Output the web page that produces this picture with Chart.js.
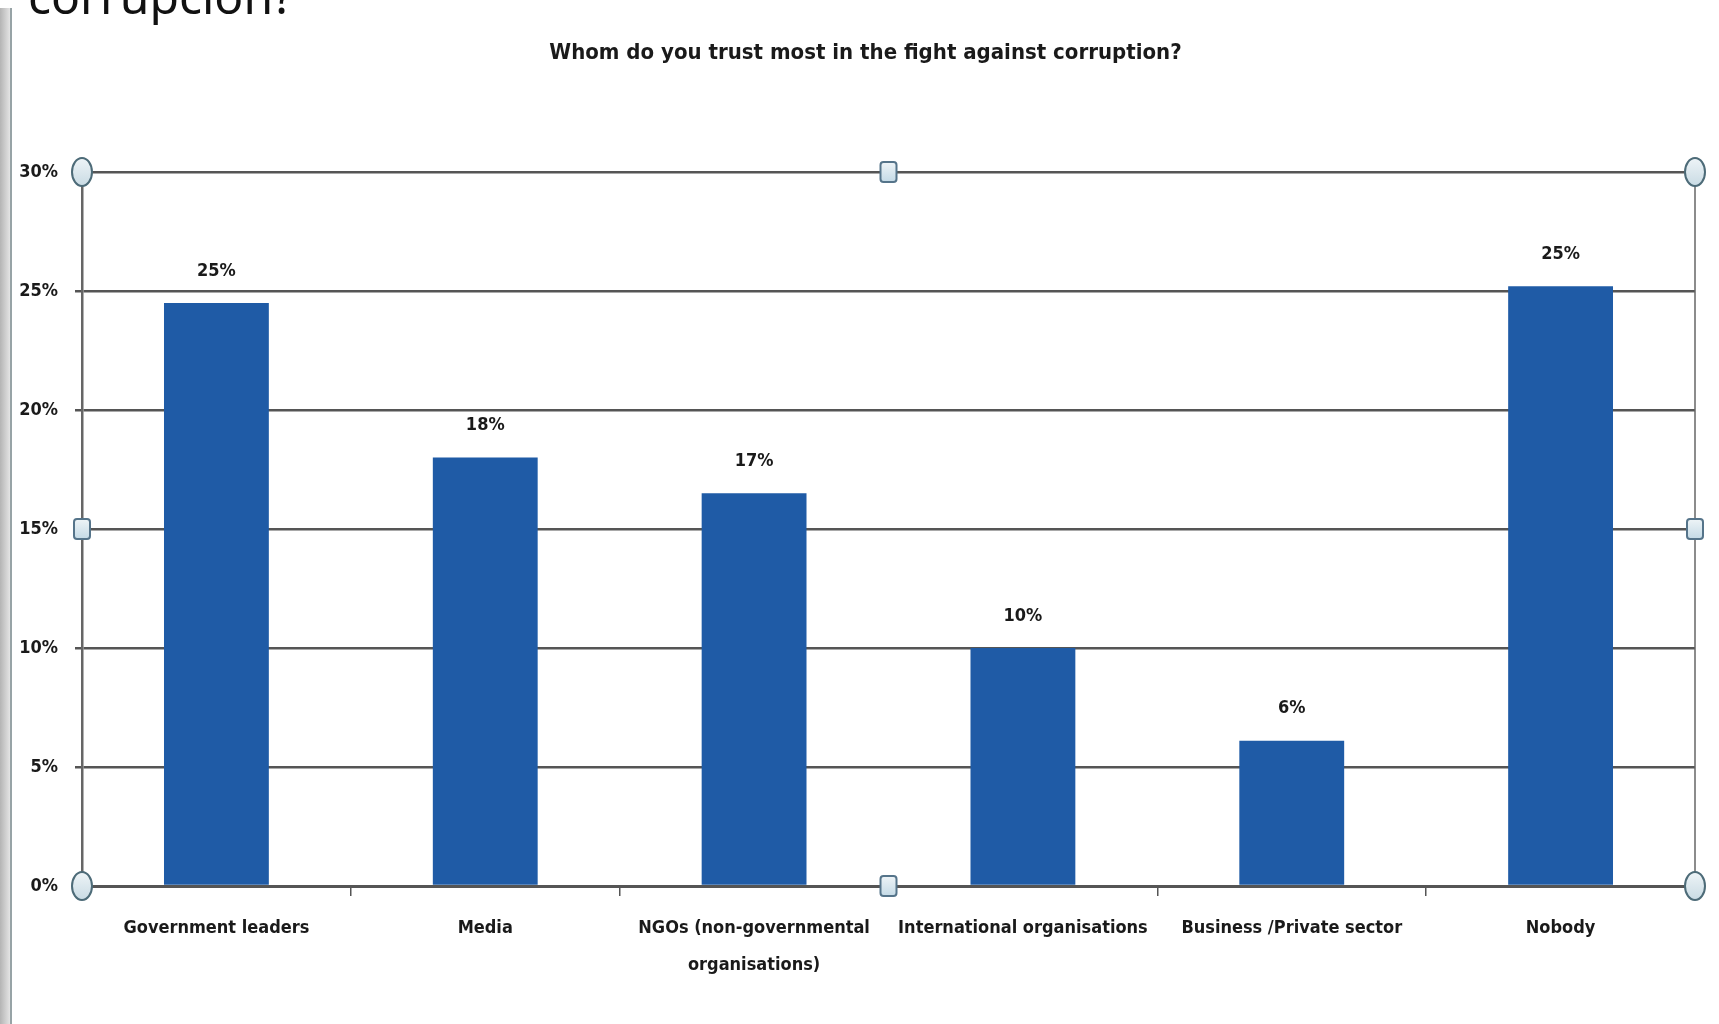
<!DOCTYPE html>
<html>
<head>
<meta charset="utf-8">
<script src="https://cdn.jsdelivr.net/npm/chart.js@4.4.1/dist/chart.umd.min.js"></script>
<style>
html, body { margin: 0; padding: 0; background: #fff; }
#wrap { position: relative; width: 1719px; height: 1024px; overflow: hidden; background: #fff; }
#edge { position: absolute; left: 0; top: 8px; bottom: 0; width: 10px;
        background: linear-gradient(to right, #b4b4b4, #e4e4e4); border-right: 2px solid #97a3a6; }
#slideText { position: absolute; left: 28px; top: -28px; font: 48px 'Noto Sans', sans-serif;
             line-height: 48px; color: #111; white-space: nowrap; }
#titulo { position: absolute; left: 6px; width: 1719px; top: 36px; text-align: center;
          font: bold 22px 'DejaVu Sans Condensed', sans-serif;
          line-height: 32px; color: #1a1a1a; white-space: nowrap; }
canvas { position: absolute; left: 0; top: 0; }
</style>
</head>
<body>
<div id="wrap">
  <canvas id="trustChart" width="1719" height="1024"></canvas>
  <div id="edge"></div>
  <div id="slideText">corrupción?</div>
  <div id="titulo">Whom do you trust most in the fight against corruption?</div>
</div>
<script>
// datos
var categorias = ['Government leaders', 'Media', ['NGOs (non-governmental', 'organisations)'],
                  'International organisations', 'Business /Private sector', 'Nobody'];
var valores = [24.5, 18.0, 16.5, 10.0, 6.1, 25.2];
var ticksY = [0, 5, 10, 15, 20, 25, 30];

var fuente = "'DejaVu Sans Condensed', sans-serif";

// etiquetas encima de las barras
var etiquetasPlugin = {
    id: 'etiquetas',
    afterDatasetsDraw: function (chart) {
        var ctx = chart.ctx;
        var meta = chart.getDatasetMeta(0);
        ctx.save();
        ctx.font = 'bold 18px ' + fuente;
        ctx.fillStyle = '#1a1a1a';
        ctx.textAlign = 'center';
        ctx.textBaseline = 'middle';
        meta.data.forEach(function (bar, i) {
            ctx.fillText(Math.round(valores[i]) + '%', bar.x, bar.y - 32);
        });
        ctx.restore();
    }
};

// borde y tiradores de seleccion del area de trazado
var seleccionPlugin = {
    id: 'seleccion',
    afterDraw: function (chart) {
        var a = chart.chartArea;
        var ctx = chart.ctx;
        var midX = (a.left + a.right) / 2;
        var midY = (a.top + a.bottom) / 2;
        ctx.save();
        ctx.strokeStyle = '#666';
        ctx.lineWidth = 1.5;
        ctx.beginPath();
        ctx.moveTo(a.right, a.top);
        ctx.lineTo(a.right, a.bottom);
        ctx.stroke();

        function circulo(x, y) {
            var g = ctx.createLinearGradient(x, y - 14, x, y + 14);
            g.addColorStop(0, '#eef4f7');
            g.addColorStop(1, '#c9dbe4');
            ctx.beginPath();
            ctx.ellipse(x, y, 10, 14, 0, 0, Math.PI * 2);
            ctx.fillStyle = g;
            ctx.fill();
            ctx.lineWidth = 2;
            ctx.strokeStyle = '#4d6b78';
            ctx.stroke();
        }
        function cuadro(x, y) {
            var g = ctx.createLinearGradient(x, y - 10, x, y + 10);
            g.addColorStop(0, '#eef4f7');
            g.addColorStop(1, '#c4dae6');
            ctx.beginPath();
            ctx.roundRect(x - 8, y - 10, 16, 20, 3);
            ctx.fillStyle = g;
            ctx.fill();
            ctx.lineWidth = 2;
            ctx.strokeStyle = '#55748a';
            ctx.stroke();
        }
        circulo(a.left, a.top);
        circulo(a.right, a.top);
        circulo(a.left, a.bottom);
        circulo(a.right, a.bottom);
        cuadro(midX, a.top);
        cuadro(midX, a.bottom);
        cuadro(a.left, midY);
        cuadro(a.right, midY);
        ctx.restore();
    }
};

var ctx = document.getElementById('trustChart');
var config = {
    type: 'bar',
    data: {
        labels: categorias,
        datasets: [{
            data: valores,
            backgroundColor: '#1f5ba6',
            barPercentage: 0.39,
            categoryPercentage: 1.0
        }]
    },
    options: {
        responsive: false,
        animation: false,
        devicePixelRatio: 1,
        layout: { padding: { top: 172, right: 24, left: 0, bottom: 0 } },
        plugins: {
            legend: { display: false },
            tooltip: { enabled: false }
        },
        scales: {
            x: {
                grid: { offset: true, drawOnChartArea: false, drawTicks: true, tickLength: 10, color: '#555', lineWidth: 1.5 },
                border: { display: true, color: '#555', width: 3 },
                ticks: { font: { family: fuente, size: 18, weight: 'bold', lineHeight: 2.1 }, color: '#1a1a1a', padding: 13, maxRotation: 0, autoSkip: false },
                afterFit: function (s) { s.height = 138; }
            },
            y: {
                min: 0,
                max: 30,
                afterBuildTicks: function (s) { s.ticks = ticksY.map(function (v) { return { value: v }; }); },
                ticks: { callback: function (v) { return v + '%'; }, padding: 17, font: { family: fuente, size: 18, weight: 'bold' }, color: '#1a1a1a' },
                grid: { color: '#555', lineWidth: 2.5, tickLength: 7 },
                border: { display: true, color: '#666', width: 2.5 },
                afterFit: function (s) { s.width = 82; }
            }
        }
    },
    plugins: [etiquetasPlugin, seleccionPlugin]
};
window.myBar = new Chart(ctx, config);
</script>
</body>
</html>
